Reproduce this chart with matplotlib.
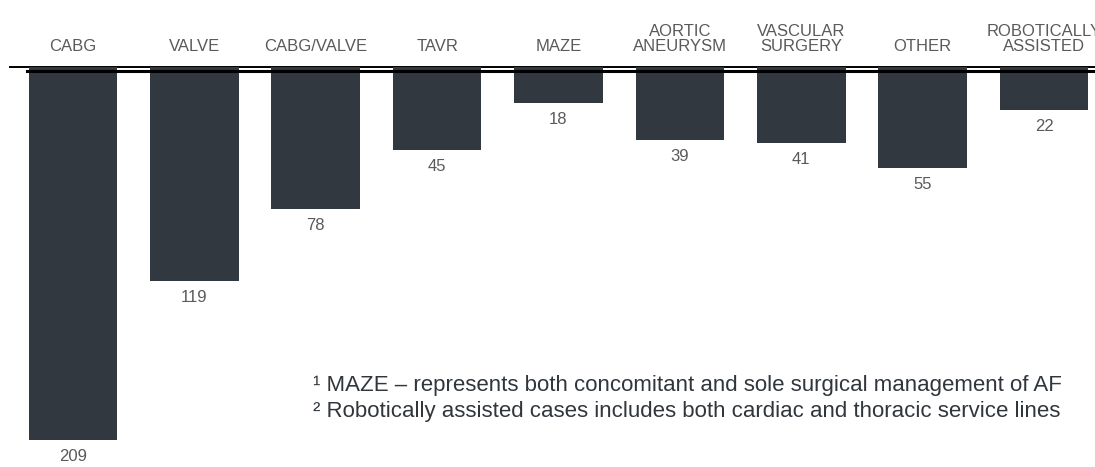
import matplotlib
matplotlib.use("Agg")
import matplotlib.pyplot as plt

categories = ["CABG", "VALVE", "CABG/VALVE", "TAVR", "MAZE",
              "AORTIC\nANEURYSM", "VASCULAR\nSURGERY", "OTHER",
              "ROBOTICALLY\nASSISTED"]
values = [209, 119, 78, 45, 18, 39, 41, 55, 22]
footnotes = ["\u00b9 MAZE \u2013 represents both concomitant and sole surgical management of AF",
             "\u00b2 Robotically assisted cases includes both cardiac and thoracic service lines"]

bar_color = "#32383f"
label_color = "#5a5a5a"
sans = ["Liberation Sans", "DejaVu Sans"]

fig = plt.figure(figsize=(10.95, 4.67), dpi=100)
ax = fig.add_axes([0, 0, 1, 1])
ax.set_xlim(-0.601, 8.42)
ax.set_ylim(224.5, -40.2)
ax.axis("off")

x = list(range(len(values)))
lift = 2.5
ax.bar(x, [v + lift for v in values], bottom=-lift, width=0.73,
       color=bar_color, zorder=3)
# double rule at the top of the bars
ax.axhline(-lift, xmin=10 / 1095, xmax=1, color="black", lw=1.4, zorder=2)
ax.axhline(0, xmin=27 / 1095, xmax=1, color="black", lw=2.2, zorder=4)

for xi, v, c in zip(x, values, categories):
    ax.annotate(str(v), (xi, v), xytext=(0, -12), textcoords="offset points",
                ha="center", va="center", fontsize=12, color=label_color,
                family=sans)
    ax.annotate(c, (xi, 0), xytext=(0, 12), textcoords="offset points",
                ha="center", va="bottom", fontsize=12, color=label_color,
                family=sans, linespacing=1.05)

for i, note in enumerate(footnotes):
    fig.text(313 / 1095, 1 - (386 + 26 * i) / 467, note, ha="left",
             va="center", fontsize=16, color="#30363c", family=sans)

fig.savefig("out.png", dpi=100)
